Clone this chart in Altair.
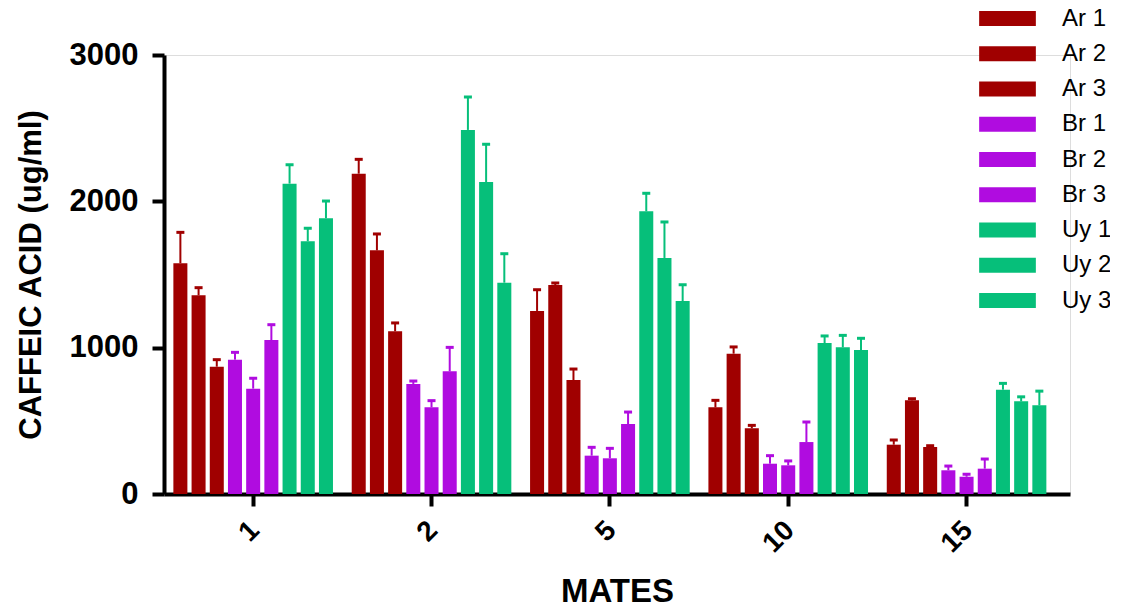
import altair as alt
import pandas as pd

groups = ["1", "2", "5", "10", "15"]
series = ["Ar 1", "Ar 2", "Ar 3", "Br 1", "Br 2", "Br 3", "Uy 1", "Uy 2", "Uy 3"]

means = {
    "Ar 1": [1577, 2189, 1251, 592, 337],
    "Ar 2": [1358, 1665, 1428, 959, 640],
    "Ar 3": [870, 1112, 779, 449, 321],
    "Br 1": [918, 752, 262, 207, 162],
    "Br 2": [720, 592, 244, 196, 118],
    "Br 3": [1052, 838, 478, 355, 173],
    "Uy 1": [2121, 2488, 1932, 1032, 713],
    "Uy 2": [1727, 2132, 1613, 1002, 633],
    "Uy 3": [1884, 1444, 1319, 984, 606],
}
errors = {
    "Ar 1": [211, 98, 145, 48, 32],
    "Ar 2": [52, 112, 14, 46, 11],
    "Ar 3": [48, 57, 75, 20, 9],
    "Br 1": [50, 20, 57, 55, 29],
    "Br 2": [71, 46, 68, 30, 17],
    "Br 3": [105, 164, 82, 137, 66],
    "Uy 1": [129, 225, 123, 48, 43],
    "Uy 2": [89, 258, 246, 82, 31],
    "Uy 3": [118, 198, 111, 80, 97],
}

RED = "#A00000"
PURPLE = "#B00CE0"
GREEN = "#06BF7A"
colors = [RED, RED, RED, PURPLE, PURPLE, PURPLE, GREEN, GREEN, GREEN]

rows = []
for s in series:
    for g, m, e in zip(groups, means[s], errors[s]):
        rows.append({"group": g, "series": s, "mean": m, "top": m + e})
df = pd.DataFrame(rows)

FONT = "Liberation Sans"

x_enc = alt.X(
    "group:N",
    sort=groups,
    scale=alt.Scale(paddingInner=0, paddingOuter=0.04, align=0),
    axis=alt.Axis(
        title="MATES",
        titleFont=FONT,
        titleFontSize=33,
        titleFontWeight="bold",
        titleColor="black",
        titlePadding=18,
        labelAngle=-45,
        labelFont=FONT,
        labelFontSize=28,
        labelFontWeight="bold",
        labelColor="black",
        labelPadding=10,
        labelOffset=-8,
        domainColor="black",
        domainWidth=4,
        tickColor="black",
        tickWidth=4,
        tickSize=12,
        grid=False,
    ),
)
xoff_enc = alt.XOffset(
    "series:N", sort=series, scale=alt.Scale(paddingInner=0.23, paddingOuter=0.515)
)
color_scale = alt.Scale(domain=series, range=colors)
color_enc = alt.Color(
    "series:N",
    sort=series,
    scale=color_scale,
    legend=alt.Legend(
        title=None,
        orient="none",
        legendX=829,
        legendY=-51,
        symbolType="M-2,-0.53H2V0.53H-2Z",
        symbolSize=804,
        symbolStrokeWidth=0,
        symbolOpacity=1,
        labelFont=FONT,
        labelFontSize=24,
        labelColor="black",
        labelOffset=40,
        rowPadding=8.25,
        padding=0,
    ),
)
y_enc = alt.Y(
    "mean:Q",
    scale=alt.Scale(domain=[0, 3000], nice=False),
    axis=alt.Axis(
        title="CAFFEIC ACID (ug/ml)",
        titleFont=FONT,
        titleFontSize=31,
        titleFontWeight="bold",
        titleColor="black",
        titlePadding=22,
        values=[0, 1000, 2000, 3000],
        format="d",
        labelFont=FONT,
        labelFontSize=31,
        labelFontWeight="bold",
        labelColor="black",
        labelPadding=14,
        domainColor="black",
        domainWidth=4,
        tickColor="black",
        tickWidth=4,
        tickSize=12,
        grid=False,
    ),
)

base = alt.Chart(df)
plain_color = alt.Color("series:N", sort=series, scale=color_scale, legend=None)

bars = base.mark_bar(opacity=1).encode(x=x_enc, xOffset=xoff_enc, y=y_enc, color=color_enc)
stems = base.mark_rule(strokeWidth=2).encode(
    x=x_enc, xOffset=xoff_enc, y="mean:Q", y2="top:Q", color=plain_color
)
caps = base.mark_tick(thickness=3, size=8, opacity=1).encode(
    x=x_enc, xOffset=xoff_enc, y="top:Q", color=plain_color
)

chart = (
    alt.layer(bars, stems, caps)
    .properties(
        width=906,
        height=439,
        autosize=alt.AutoSizeParams(type="none"),
        padding={"left": 156, "top": 47, "right": 40, "bottom": 118},
    )
    .configure_view(stroke=None)
    .configure(background="white")
)

chart.save("out.html", embed_options={"renderer": "svg", "actions": False})
